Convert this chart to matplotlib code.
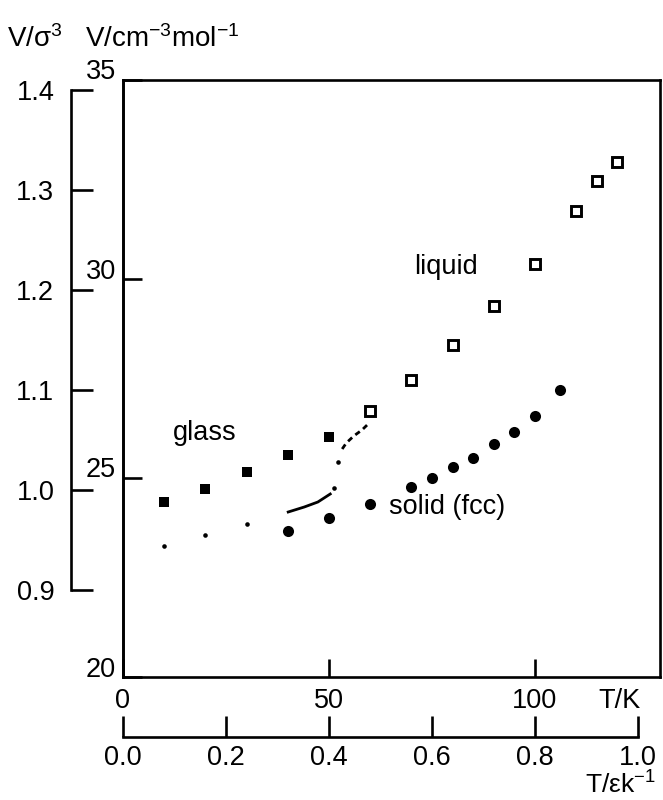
import matplotlib
matplotlib.use("Agg")
import matplotlib.pyplot as plt
import matplotlib.transforms as mtrans
import numpy as np

plt.rcParams['font.family'] = ['Liberation Sans', 'DejaVu Sans']
plt.rcParams['mathtext.fontset'] = 'custom'
plt.rcParams['mathtext.rm'] = 'Liberation Sans'
plt.rcParams['mathtext.it'] = 'Liberation Sans'

# ---------------- data (T in K, V in sigma^3 units) ----------------
glass_T = [10, 20, 30, 40, 50]
glass_V = [0.988, 1.001, 1.018, 1.035, 1.053]

glass_low_T = [10, 20, 30]
glass_low_V = [0.944, 0.955, 0.966]

trans_line_T = [40.1, 44.0, 47.3, 50.3]
trans_line_V = [0.978, 0.983, 0.988, 0.996]
trans_dots_T = [51.3, 52.3]
trans_dots_V = [1.002, 1.028]
trans_dash_T = [53.2, 54.2, 56.0, 58.0, 59.5]
trans_dash_V = [1.041, 1.047, 1.054, 1.060, 1.066]

solid_T = [40, 50, 60, 70, 75, 80, 85, 90, 95, 100, 106]
solid_V = [0.959, 0.972, 0.986, 1.003, 1.012, 1.023, 1.032, 1.046, 1.058, 1.074, 1.100]

liquid_T = [60, 70, 80, 90, 100, 110, 115, 120]
liquid_V = [1.079, 1.110, 1.145, 1.184, 1.226, 1.279, 1.309, 1.328]

T_ticks = [0, 50, 100]
Teps_ticks = [0.0, 0.2, 0.4, 0.6, 0.8, 1.0]
Vs_ticks = [0.9, 1.0, 1.1, 1.2, 1.3, 1.4]
Vcm_ticks = [20, 25, 30, 35]
eps_k = 125.0  # K

V0 = 0.813      # V/sigma^3 at V = 20 cm^3/mol
PX_PER_CM = 39.8  # scale ratio between the two volume axes

# axis conversions
def s2cm(v):
    return 20 + (np.asarray(v) - V0) * 1000 / PX_PER_CM

def cm2s(c):
    return V0 + (np.asarray(c) - 20) * PX_PER_CM / 1000

def T2eps(t):
    return np.asarray(t) / eps_k

def eps2T(e):
    return np.asarray(e) * eps_k

W, H = 663, 800
fig = plt.figure(figsize=(W / 100, H / 100), dpi=100)
L, R, B, Tp = 123, 660, 677, 80
ax = fig.add_axes([L / W, 1 - B / H, (R - L) / W, (B - Tp) / H])
ax.set_xlim(0, (R - L) / 4.12)
ax.set_ylim(V0, V0 + (B - Tp) / 1000)

FS = 19.5
LW = 1.9

for s in ax.spines.values():
    s.set_linewidth(LW)

# data
ax.plot(glass_T, glass_V, 's', color='black', ms=7.0, mew=0)
ax.plot(glass_low_T, glass_low_V, 'o', color='black', ms=3.3, mew=0)
ax.plot(trans_line_T, trans_line_V, '-', color='black', lw=2.0)
ax.plot(trans_dots_T, trans_dots_V, 'o', color='black', ms=3.3, mew=0)
ax.plot(trans_dash_T, trans_dash_V, '--', color='black', lw=2.0, dashes=(2.0, 1.5))
ax.plot(solid_T, solid_V, 'o', color='black', ms=8.0, mew=0)
ax.plot(liquid_T, liquid_V, 's', mfc='white', mec='black', ms=7.6, mew=2.1)

ax.text(19.9, 1.057, 'glass', fontsize=FS, ha='center', va='center')
ax.text(78.4, 1.223, 'liquid', fontsize=FS, ha='center', va='center')
ax.text(78.6, 0.983, 'solid (fcc)', fontsize=FS, ha='center', va='center')

# bottom T/K axis
ax.set_xticks(T_ticks)
ax.set_xticklabels([str(t) for t in T_ticks])
ax.tick_params(axis='x', direction='in', length=13, width=LW, labelsize=FS, pad=8)
ax.text(120.5, 0, 'T/K', fontsize=FS, ha='center', va='top',
        transform=ax.get_xaxis_transform() + mtrans.ScaledTranslation(0, -8 / 72, fig.dpi_scale_trans))

# left main spine: V/cm^3 mol^-1 (ticks in, labels drawn slightly raised)
ax.set_yticks([])
sec_cm = ax.secondary_yaxis(0.0, functions=(s2cm, cm2s))
sec_cm.set_yticks(Vcm_ticks)
sec_cm.set_yticklabels([])
sec_cm.tick_params(axis='y', direction='in', length=14, width=LW)
sec_cm.spines['left'].set_linewidth(LW)
raise_px = {20: 7, 25: 8, 30: 7, 35: 8}
for c in Vcm_ticks:
    off = mtrans.ScaledTranslation(-7 / 100, raise_px[c] / 100, fig.dpi_scale_trans)
    ax.text(0, float(cm2s(c)), str(c), fontsize=FS, ha='right', va='center',
            transform=ax.get_yaxis_transform() + off, clip_on=False)

# outer V/sigma^3 axis
loc_s = (71 - L) / (R - L)
sec_s = ax.secondary_yaxis(loc_s, functions=(lambda v: v, lambda v: v))
sec_s.set_yticks(Vs_ticks)
sec_s.set_yticklabels([f'{v:.1f}' for v in Vs_ticks])
sec_s.tick_params(axis='y', direction='in', length=16, width=LW, labelsize=FS, pad=12)
sec_s.spines['left'].set_linewidth(LW)
sec_s.spines['left'].set_bounds(0.9, 1.4)

# lower T/(eps/k) axis
loc_x = -(737 - B) / (B - Tp)
sec_x = ax.secondary_xaxis(loc_x, functions=(T2eps, eps2T))
sec_x.set_xticks(Teps_ticks)
sec_x.set_xticklabels([f'{v:.1f}' for v in Teps_ticks])
sec_x.tick_params(axis='x', direction='in', length=15, width=LW, labelsize=FS, pad=6)
sec_x.spines['bottom'].set_linewidth(LW)
sec_x.spines['bottom'].set_bounds(0.0, 1.0)

# axis titles
fig.text(35 / W, 1 - 39 / H, r'V/σ$^3$', fontsize=20, ha='center', va='center')
fig.text(162 / W, 1 - 39 / H, r'V/cm$^{-3}$mol$^{-1}$', fontsize=20, ha='center', va='center')
fig.text(620 / W, 1 - 799 / H, r'T/εk$^{-1}$', fontsize=19, ha='center', va='bottom')

fig.savefig('out.png', dpi=100)
